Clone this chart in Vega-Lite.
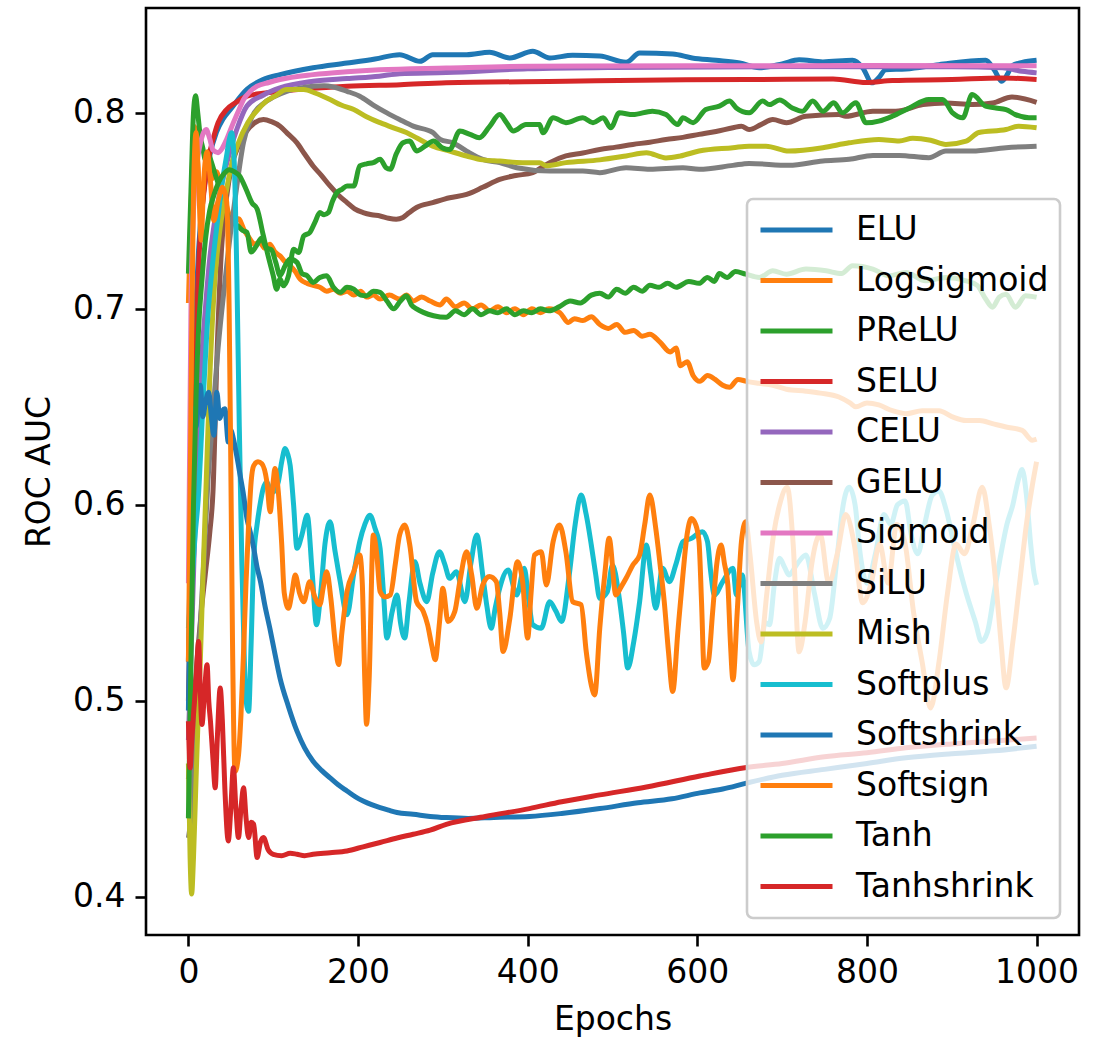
{
"$schema": "https://vega.github.io/schema/vega-lite/v6.json",
"width": 933, "height": 927,
"autosize": {"type": "none"},
"padding": {"left": 146, "top": 8, "right": 20, "bottom": 103},
"background": "white",
"data": {"values": [
{"fn":"ELU","epoch":0,"auc":0.52},{"fn":"ELU","epoch":4,"auc":0.62},{"fn":"ELU","epoch":8,"auc":0.69},{"fn":"ELU","epoch":12,"auc":0.73},{"fn":"ELU","epoch":18,"auc":0.76},{"fn":"ELU","epoch":25,"auc":0.778},{"fn":"ELU","epoch":33,"auc":0.79},{"fn":"ELU","epoch":41,"auc":0.797},{"fn":"ELU","epoch":50,"auc":0.802},{"fn":"ELU","epoch":69,"auc":0.812},{"fn":"ELU","epoch":88,"auc":0.817},{"fn":"ELU","epoch":108,"auc":0.8195},{"fn":"ELU","epoch":147,"auc":0.823},{"fn":"ELU","epoch":187,"auc":0.8254},{"fn":"ELU","epoch":220,"auc":0.8275},{"fn":"ELU","epoch":249,"auc":0.8297},{"fn":"ELU","epoch":273,"auc":0.8263},{"fn":"ELU","epoch":288,"auc":0.8297},{"fn":"ELU","epoch":328,"auc":0.8297},{"fn":"ELU","epoch":355,"auc":0.8309},{"fn":"ELU","epoch":379,"auc":0.828},{"fn":"ELU","epoch":406,"auc":0.8314},{"fn":"ELU","epoch":426,"auc":0.828},{"fn":"ELU","epoch":453,"auc":0.8294},{"fn":"ELU","epoch":485,"auc":0.829},{"fn":"ELU","epoch":516,"auc":0.8258},{"fn":"ELU","epoch":532,"auc":0.8305},{"fn":"ELU","epoch":571,"auc":0.830},{"fn":"ELU","epoch":594,"auc":0.828},{"fn":"ELU","epoch":622,"auc":0.8268},{"fn":"ELU","epoch":650,"auc":0.8254},{"fn":"ELU","epoch":673,"auc":0.823},{"fn":"ELU","epoch":700,"auc":0.825},{"fn":"ELU","epoch":720,"auc":0.8271},{"fn":"ELU","epoch":748,"auc":0.826},{"fn":"ELU","epoch":783,"auc":0.8268},{"fn":"ELU","epoch":795,"auc":0.823},{"fn":"ELU","epoch":806,"auc":0.8153},{"fn":"ELU","epoch":814,"auc":0.818},{"fn":"ELU","epoch":822,"auc":0.822},{"fn":"ELU","epoch":846,"auc":0.8224},{"fn":"ELU","epoch":885,"auc":0.8246},{"fn":"ELU","epoch":940,"auc":0.8268},{"fn":"ELU","epoch":950,"auc":0.822},{"fn":"ELU","epoch":959,"auc":0.8161},{"fn":"ELU","epoch":966,"auc":0.820},{"fn":"ELU","epoch":971,"auc":0.824},{"fn":"ELU","epoch":983,"auc":0.8257},{"fn":"ELU","epoch":1000,"auc":0.8268},

{"fn":"LogSigmoid","epoch":0,"auc":0.703},{"fn":"LogSigmoid","epoch":4,"auc":0.765},{"fn":"LogSigmoid","epoch":7,"auc":0.793},{"fn":"LogSigmoid","epoch":10,"auc":0.78},{"fn":"LogSigmoid","epoch":13,"auc":0.762},{"fn":"LogSigmoid","epoch":16,"auc":0.752},{"fn":"LogSigmoid","epoch":19,"auc":0.765},{"fn":"LogSigmoid","epoch":22,"auc":0.772},{"fn":"LogSigmoid","epoch":27,"auc":0.766},{"fn":"LogSigmoid","epoch":33,"auc":0.77},{"fn":"LogSigmoid","epoch":38,"auc":0.763},{"fn":"LogSigmoid","epoch":43,"auc":0.756},{"fn":"LogSigmoid","epoch":48,"auc":0.748},{"fn":"LogSigmoid","epoch":54,"auc":0.744},{"fn":"LogSigmoid","epoch":59,"auc":0.746},{"fn":"LogSigmoid","epoch":66,"auc":0.740},{"fn":"LogSigmoid","epoch":72,"auc":0.736},{"fn":"LogSigmoid","epoch":78,"auc":0.733},{"fn":"LogSigmoid","epoch":84,"auc":0.734},{"fn":"LogSigmoid","epoch":90,"auc":0.731},{"fn":"LogSigmoid","epoch":96,"auc":0.733},{"fn":"LogSigmoid","epoch":102,"auc":0.729},{"fn":"LogSigmoid","epoch":108,"auc":0.727},{"fn":"LogSigmoid","epoch":114,"auc":0.724},{"fn":"LogSigmoid","epoch":120,"auc":0.722},{"fn":"LogSigmoid","epoch":126,"auc":0.719},{"fn":"LogSigmoid","epoch":132,"auc":0.715},{"fn":"LogSigmoid","epoch":140,"auc":0.713},{"fn":"LogSigmoid","epoch":147,"auc":0.712},{"fn":"LogSigmoid","epoch":155,"auc":0.711},{"fn":"LogSigmoid","epoch":163,"auc":0.709},{"fn":"LogSigmoid","epoch":171,"auc":0.710},{"fn":"LogSigmoid","epoch":179,"auc":0.708},{"fn":"LogSigmoid","epoch":187,"auc":0.709},{"fn":"LogSigmoid","epoch":195,"auc":0.707},{"fn":"LogSigmoid","epoch":203,"auc":0.709},{"fn":"LogSigmoid","epoch":210,"auc":0.706},{"fn":"LogSigmoid","epoch":218,"auc":0.707},{"fn":"LogSigmoid","epoch":226,"auc":0.705},{"fn":"LogSigmoid","epoch":237,"auc":0.707},{"fn":"LogSigmoid","epoch":249,"auc":0.705},{"fn":"LogSigmoid","epoch":257,"auc":0.707},{"fn":"LogSigmoid","epoch":265,"auc":0.704},{"fn":"LogSigmoid","epoch":275,"auc":0.706},{"fn":"LogSigmoid","epoch":285,"auc":0.704},{"fn":"LogSigmoid","epoch":297,"auc":0.702},{"fn":"LogSigmoid","epoch":304,"auc":0.705},{"fn":"LogSigmoid","epoch":315,"auc":0.701},{"fn":"LogSigmoid","epoch":325,"auc":0.703},{"fn":"LogSigmoid","epoch":335,"auc":0.700},{"fn":"LogSigmoid","epoch":345,"auc":0.702},{"fn":"LogSigmoid","epoch":355,"auc":0.699},{"fn":"LogSigmoid","epoch":365,"auc":0.701},{"fn":"LogSigmoid","epoch":375,"auc":0.698},{"fn":"LogSigmoid","epoch":385,"auc":0.700},{"fn":"LogSigmoid","epoch":395,"auc":0.697},{"fn":"LogSigmoid","epoch":405,"auc":0.700},{"fn":"LogSigmoid","epoch":415,"auc":0.698},{"fn":"LogSigmoid","epoch":425,"auc":0.700},{"fn":"LogSigmoid","epoch":438,"auc":0.698},{"fn":"LogSigmoid","epoch":448,"auc":0.693},{"fn":"LogSigmoid","epoch":455,"auc":0.695},{"fn":"LogSigmoid","epoch":465,"auc":0.694},{"fn":"LogSigmoid","epoch":475,"auc":0.696},{"fn":"LogSigmoid","epoch":485,"auc":0.692},{"fn":"LogSigmoid","epoch":495,"auc":0.690},{"fn":"LogSigmoid","epoch":505,"auc":0.692},{"fn":"LogSigmoid","epoch":515,"auc":0.688},{"fn":"LogSigmoid","epoch":525,"auc":0.689},{"fn":"LogSigmoid","epoch":535,"auc":0.686},{"fn":"LogSigmoid","epoch":544,"auc":0.687},{"fn":"LogSigmoid","epoch":556,"auc":0.683},{"fn":"LogSigmoid","epoch":568,"auc":0.678},{"fn":"LogSigmoid","epoch":575,"auc":0.680},{"fn":"LogSigmoid","epoch":580,"auc":0.671},{"fn":"LogSigmoid","epoch":588,"auc":0.673},{"fn":"LogSigmoid","epoch":595,"auc":0.666},{"fn":"LogSigmoid","epoch":603,"auc":0.663},{"fn":"LogSigmoid","epoch":612,"auc":0.666},{"fn":"LogSigmoid","epoch":621,"auc":0.664},{"fn":"LogSigmoid","epoch":630,"auc":0.661},{"fn":"LogSigmoid","epoch":638,"auc":0.660},{"fn":"LogSigmoid","epoch":648,"auc":0.664},{"fn":"LogSigmoid","epoch":658,"auc":0.663},{"fn":"LogSigmoid","epoch":672,"auc":0.662},{"fn":"LogSigmoid","epoch":689,"auc":0.661},{"fn":"LogSigmoid","epoch":705,"auc":0.659},{"fn":"LogSigmoid","epoch":728,"auc":0.658},{"fn":"LogSigmoid","epoch":745,"auc":0.657},{"fn":"LogSigmoid","epoch":767,"auc":0.655},{"fn":"LogSigmoid","epoch":780,"auc":0.652},{"fn":"LogSigmoid","epoch":787,"auc":0.650},{"fn":"LogSigmoid","epoch":800,"auc":0.652},{"fn":"LogSigmoid","epoch":814,"auc":0.651},{"fn":"LogSigmoid","epoch":830,"auc":0.648},{"fn":"LogSigmoid","epoch":846,"auc":0.6465},{"fn":"LogSigmoid","epoch":865,"auc":0.648},{"fn":"LogSigmoid","epoch":885,"auc":0.648},{"fn":"LogSigmoid","epoch":900,"auc":0.645},{"fn":"LogSigmoid","epoch":917,"auc":0.643},{"fn":"LogSigmoid","epoch":933,"auc":0.643},{"fn":"LogSigmoid","epoch":948,"auc":0.6414},{"fn":"LogSigmoid","epoch":964,"auc":0.6397},{"fn":"LogSigmoid","epoch":983,"auc":0.638},{"fn":"LogSigmoid","epoch":995,"auc":0.633},{"fn":"LogSigmoid","epoch":1000,"auc":0.6335},

{"fn":"PReLU","epoch":0,"auc":0.718},{"fn":"PReLU","epoch":3,"auc":0.76},{"fn":"PReLU","epoch":6,"auc":0.80},{"fn":"PReLU","epoch":8.5,"auc":0.8087},{"fn":"PReLU","epoch":11,"auc":0.80},{"fn":"PReLU","epoch":14,"auc":0.788},{"fn":"PReLU","epoch":17,"auc":0.782},{"fn":"PReLU","epoch":20,"auc":0.776},{"fn":"PReLU","epoch":23,"auc":0.78},{"fn":"PReLU","epoch":27,"auc":0.775},{"fn":"PReLU","epoch":32,"auc":0.768},{"fn":"PReLU","epoch":39,"auc":0.759},{"fn":"PReLU","epoch":47,"auc":0.747},{"fn":"PReLU","epoch":53,"auc":0.744},{"fn":"PReLU","epoch":59,"auc":0.742},{"fn":"PReLU","epoch":64,"auc":0.740},{"fn":"PReLU","epoch":69,"auc":0.739},{"fn":"PReLU","epoch":74,"auc":0.729},{"fn":"PReLU","epoch":80,"auc":0.732},{"fn":"PReLU","epoch":86,"auc":0.736},{"fn":"PReLU","epoch":92,"auc":0.731},{"fn":"PReLU","epoch":98,"auc":0.730},{"fn":"PReLU","epoch":103,"auc":0.7237},{"fn":"PReLU","epoch":108,"auc":0.7169},{"fn":"PReLU","epoch":114,"auc":0.722},{"fn":"PReLU","epoch":120,"auc":0.7254},{"fn":"PReLU","epoch":128,"auc":0.7237},{"fn":"PReLU","epoch":134,"auc":0.718},{"fn":"PReLU","epoch":140,"auc":0.7169},{"fn":"PReLU","epoch":147,"auc":0.7135},{"fn":"PReLU","epoch":155,"auc":0.716},{"fn":"PReLU","epoch":163,"auc":0.7169},{"fn":"PReLU","epoch":171,"auc":0.711},{"fn":"PReLU","epoch":179,"auc":0.7084},{"fn":"PReLU","epoch":187,"auc":0.711},{"fn":"PReLU","epoch":195,"auc":0.710},{"fn":"PReLU","epoch":203,"auc":0.707},{"fn":"PReLU","epoch":210,"auc":0.7067},{"fn":"PReLU","epoch":218,"auc":0.709},{"fn":"PReLU","epoch":226,"auc":0.7084},{"fn":"PReLU","epoch":234,"auc":0.704},{"fn":"PReLU","epoch":242,"auc":0.700},{"fn":"PReLU","epoch":250,"auc":0.704},{"fn":"PReLU","epoch":257,"auc":0.7067},{"fn":"PReLU","epoch":263,"auc":0.702},{"fn":"PReLU","epoch":269,"auc":0.700},{"fn":"PReLU","epoch":277,"auc":0.6982},{"fn":"PReLU","epoch":289,"auc":0.6965},{"fn":"PReLU","epoch":304,"auc":0.6957},{"fn":"PReLU","epoch":315,"auc":0.699},{"fn":"PReLU","epoch":325,"auc":0.697},{"fn":"PReLU","epoch":335,"auc":0.700},{"fn":"PReLU","epoch":345,"auc":0.697},{"fn":"PReLU","epoch":355,"auc":0.699},{"fn":"PReLU","epoch":365,"auc":0.698},{"fn":"PReLU","epoch":375,"auc":0.700},{"fn":"PReLU","epoch":385,"auc":0.697},{"fn":"PReLU","epoch":395,"auc":0.699},{"fn":"PReLU","epoch":405,"auc":0.698},{"fn":"PReLU","epoch":415,"auc":0.700},{"fn":"PReLU","epoch":425,"auc":0.699},{"fn":"PReLU","epoch":437,"auc":0.701},{"fn":"PReLU","epoch":450,"auc":0.704},{"fn":"PReLU","epoch":462,"auc":0.703},{"fn":"PReLU","epoch":475,"auc":0.707},{"fn":"PReLU","epoch":485,"auc":0.708},{"fn":"PReLU","epoch":495,"auc":0.706},{"fn":"PReLU","epoch":505,"auc":0.710},{"fn":"PReLU","epoch":515,"auc":0.708},{"fn":"PReLU","epoch":525,"auc":0.711},{"fn":"PReLU","epoch":535,"auc":0.709},{"fn":"PReLU","epoch":544,"auc":0.712},{"fn":"PReLU","epoch":555,"auc":0.711},{"fn":"PReLU","epoch":565,"auc":0.713},{"fn":"PReLU","epoch":575,"auc":0.711},{"fn":"PReLU","epoch":590,"auc":0.714},{"fn":"PReLU","epoch":602,"auc":0.713},{"fn":"PReLU","epoch":612,"auc":0.716},{"fn":"PReLU","epoch":620,"auc":0.714},{"fn":"PReLU","epoch":626,"auc":0.718},{"fn":"PReLU","epoch":635,"auc":0.716},{"fn":"PReLU","epoch":645,"auc":0.719},{"fn":"PReLU","epoch":657,"auc":0.7177},{"fn":"PReLU","epoch":673,"auc":0.716},{"fn":"PReLU","epoch":689,"auc":0.7194},{"fn":"PReLU","epoch":705,"auc":0.7177},{"fn":"PReLU","epoch":728,"auc":0.7203},{"fn":"PReLU","epoch":752,"auc":0.7194},{"fn":"PReLU","epoch":770,"auc":0.718},{"fn":"PReLU","epoch":783,"auc":0.722},{"fn":"PReLU","epoch":807,"auc":0.7203},{"fn":"PReLU","epoch":826,"auc":0.7169},{"fn":"PReLU","epoch":846,"auc":0.7186},{"fn":"PReLU","epoch":869,"auc":0.7143},{"fn":"PReLU","epoch":893,"auc":0.716},{"fn":"PReLU","epoch":917,"auc":0.7143},{"fn":"PReLU","epoch":930,"auc":0.712},{"fn":"PReLU","epoch":940,"auc":0.705},{"fn":"PReLU","epoch":948,"auc":0.7008},{"fn":"PReLU","epoch":956,"auc":0.706},{"fn":"PReLU","epoch":964,"auc":0.7075},{"fn":"PReLU","epoch":975,"auc":0.7008},{"fn":"PReLU","epoch":987,"auc":0.7067},{"fn":"PReLU","epoch":1000,"auc":0.7059},

{"fn":"SELU","epoch":0,"auc":0.50},{"fn":"SELU","epoch":3,"auc":0.56},{"fn":"SELU","epoch":5.6,"auc":0.60},{"fn":"SELU","epoch":8,"auc":0.66},{"fn":"SELU","epoch":11,"auc":0.71},{"fn":"SELU","epoch":15,"auc":0.745},{"fn":"SELU","epoch":19,"auc":0.762},{"fn":"SELU","epoch":23,"auc":0.775},{"fn":"SELU","epoch":30,"auc":0.788},{"fn":"SELU","epoch":35,"auc":0.795},{"fn":"SELU","epoch":45,"auc":0.8017},{"fn":"SELU","epoch":55,"auc":0.805},{"fn":"SELU","epoch":69,"auc":0.8085},{"fn":"SELU","epoch":88,"auc":0.810},{"fn":"SELU","epoch":108,"auc":0.811},{"fn":"SELU","epoch":147,"auc":0.8125},{"fn":"SELU","epoch":187,"auc":0.8136},{"fn":"SELU","epoch":250,"auc":0.8144},{"fn":"SELU","epoch":304,"auc":0.8153},{"fn":"SELU","epoch":445,"auc":0.8161},{"fn":"SELU","epoch":560,"auc":0.8168},{"fn":"SELU","epoch":657,"auc":0.817},{"fn":"SELU","epoch":760,"auc":0.8173},{"fn":"SELU","epoch":799,"auc":0.8155},{"fn":"SELU","epoch":830,"auc":0.8165},{"fn":"SELU","epoch":900,"auc":0.817},{"fn":"SELU","epoch":959,"auc":0.8178},{"fn":"SELU","epoch":1000,"auc":0.817},

{"fn":"CELU","epoch":0,"auc":0.48},{"fn":"CELU","epoch":5,"auc":0.55},{"fn":"CELU","epoch":10,"auc":0.62},{"fn":"CELU","epoch":15,"auc":0.67},{"fn":"CELU","epoch":20,"auc":0.70},{"fn":"CELU","epoch":25,"auc":0.725},{"fn":"CELU","epoch":30,"auc":0.742},{"fn":"CELU","epoch":40,"auc":0.765},{"fn":"CELU","epoch":50,"auc":0.782},{"fn":"CELU","epoch":57,"auc":0.7915},{"fn":"CELU","epoch":69,"auc":0.8035},{"fn":"CELU","epoch":88,"auc":0.809},{"fn":"CELU","epoch":108,"auc":0.8127},{"fn":"CELU","epoch":147,"auc":0.8161},{"fn":"CELU","epoch":187,"auc":0.8175},{"fn":"CELU","epoch":225,"auc":0.8187},{"fn":"CELU","epoch":249,"auc":0.8200},{"fn":"CELU","epoch":304,"auc":0.8206},{"fn":"CELU","epoch":400,"auc":0.8225},{"fn":"CELU","epoch":500,"auc":0.8232},{"fn":"CELU","epoch":700,"auc":0.8236},{"fn":"CELU","epoch":900,"auc":0.8235},{"fn":"CELU","epoch":960,"auc":0.823},{"fn":"CELU","epoch":983,"auc":0.8212},{"fn":"CELU","epoch":1000,"auc":0.8204},

{"fn":"GELU","epoch":0,"auc":0.46},{"fn":"GELU","epoch":5,"auc":0.49},{"fn":"GELU","epoch":10,"auc":0.52},{"fn":"GELU","epoch":15,"auc":0.545},{"fn":"GELU","epoch":20,"auc":0.565},{"fn":"GELU","epoch":25,"auc":0.585},{"fn":"GELU","epoch":29,"auc":0.607},{"fn":"GELU","epoch":34,"auc":0.68},{"fn":"GELU","epoch":39,"auc":0.7304},{"fn":"GELU","epoch":45,"auc":0.757},{"fn":"GELU","epoch":51,"auc":0.7729},{"fn":"GELU","epoch":59,"auc":0.783},{"fn":"GELU","epoch":67,"auc":0.7898},{"fn":"GELU","epoch":78,"auc":0.7949},{"fn":"GELU","epoch":88.5,"auc":0.7966},{"fn":"GELU","epoch":98,"auc":0.7955},{"fn":"GELU","epoch":108,"auc":0.7932},{"fn":"GELU","epoch":118,"auc":0.789},{"fn":"GELU","epoch":128,"auc":0.7847},{"fn":"GELU","epoch":137,"auc":0.779},{"fn":"GELU","epoch":147,"auc":0.7729},{"fn":"GELU","epoch":157,"auc":0.768},{"fn":"GELU","epoch":167,"auc":0.7627},{"fn":"GELU","epoch":177,"auc":0.758},{"fn":"GELU","epoch":187,"auc":0.7542},{"fn":"GELU","epoch":196,"auc":0.751},{"fn":"GELU","epoch":206,"auc":0.7491},{"fn":"GELU","epoch":216,"auc":0.748},{"fn":"GELU","epoch":226,"auc":0.7474},{"fn":"GELU","epoch":236,"auc":0.7462},{"fn":"GELU","epoch":245,"auc":0.7457},{"fn":"GELU","epoch":253,"auc":0.7466},{"fn":"GELU","epoch":260,"auc":0.749},{"fn":"GELU","epoch":269,"auc":0.7517},{"fn":"GELU","epoch":288,"auc":0.7542},{"fn":"GELU","epoch":308,"auc":0.7567},{"fn":"GELU","epoch":328,"auc":0.7584},{"fn":"GELU","epoch":347,"auc":0.762},{"fn":"GELU","epoch":367,"auc":0.7661},{"fn":"GELU","epoch":386,"auc":0.768},{"fn":"GELU","epoch":406,"auc":0.7695},{"fn":"GELU","epoch":416,"auc":0.772},{"fn":"GELU","epoch":426,"auc":0.7746},{"fn":"GELU","epoch":445,"auc":0.778},{"fn":"GELU","epoch":465,"auc":0.7795},{"fn":"GELU","epoch":485,"auc":0.7813},{"fn":"GELU","epoch":504,"auc":0.7825},{"fn":"GELU","epoch":524,"auc":0.7839},{"fn":"GELU","epoch":544,"auc":0.785},{"fn":"GELU","epoch":563,"auc":0.7864},{"fn":"GELU","epoch":583,"auc":0.7875},{"fn":"GELU","epoch":602,"auc":0.789},{"fn":"GELU","epoch":622,"auc":0.7905},{"fn":"GELU","epoch":642,"auc":0.7924},{"fn":"GELU","epoch":652,"auc":0.7932},{"fn":"GELU","epoch":661,"auc":0.7915},{"fn":"GELU","epoch":675,"auc":0.794},{"fn":"GELU","epoch":689,"auc":0.7966},{"fn":"GELU","epoch":705,"auc":0.795},{"fn":"GELU","epoch":728,"auc":0.7983},{"fn":"GELU","epoch":767,"auc":0.7991},{"fn":"GELU","epoch":775,"auc":0.7983},{"fn":"GELU","epoch":807,"auc":0.8008},{"fn":"GELU","epoch":834,"auc":0.8008},{"fn":"GELU","epoch":866,"auc":0.8042},{"fn":"GELU","epoch":893,"auc":0.805},{"fn":"GELU","epoch":924,"auc":0.8042},{"fn":"GELU","epoch":948,"auc":0.805},{"fn":"GELU","epoch":971,"auc":0.8081},{"fn":"GELU","epoch":1000,"auc":0.8054},

{"fn":"Sigmoid","epoch":0,"auc":0.56},{"fn":"Sigmoid","epoch":3,"auc":0.70},{"fn":"Sigmoid","epoch":6,"auc":0.75},{"fn":"Sigmoid","epoch":9,"auc":0.77},{"fn":"Sigmoid","epoch":13,"auc":0.782},{"fn":"Sigmoid","epoch":17,"auc":0.789},{"fn":"Sigmoid","epoch":21,"auc":0.7915},{"fn":"Sigmoid","epoch":25,"auc":0.787},{"fn":"Sigmoid","epoch":29,"auc":0.781},{"fn":"Sigmoid","epoch":35,"auc":0.7797},{"fn":"Sigmoid","epoch":40,"auc":0.782},{"fn":"Sigmoid","epoch":45,"auc":0.7864},{"fn":"Sigmoid","epoch":53,"auc":0.795},{"fn":"Sigmoid","epoch":60,"auc":0.802},{"fn":"Sigmoid","epoch":65,"auc":0.8068},{"fn":"Sigmoid","epoch":73,"auc":0.811},{"fn":"Sigmoid","epoch":81,"auc":0.8136},{"fn":"Sigmoid","epoch":95,"auc":0.8155},{"fn":"Sigmoid","epoch":108,"auc":0.817},{"fn":"Sigmoid","epoch":147,"auc":0.8195},{"fn":"Sigmoid","epoch":187,"auc":0.821},{"fn":"Sigmoid","epoch":225,"auc":0.822},{"fn":"Sigmoid","epoch":304,"auc":0.8229},{"fn":"Sigmoid","epoch":400,"auc":0.8238},{"fn":"Sigmoid","epoch":600,"auc":0.824},{"fn":"Sigmoid","epoch":800,"auc":0.8241},{"fn":"Sigmoid","epoch":1000,"auc":0.8240},

{"fn":"SiLU","epoch":0,"auc":0.43},{"fn":"SiLU","epoch":3,"auc":0.44},{"fn":"SiLU","epoch":8,"auc":0.48},{"fn":"SiLU","epoch":13,"auc":0.53},{"fn":"SiLU","epoch":18,"auc":0.57},{"fn":"SiLU","epoch":23,"auc":0.612},{"fn":"SiLU","epoch":27,"auc":0.635},{"fn":"SiLU","epoch":35,"auc":0.68},{"fn":"SiLU","epoch":43,"auc":0.7135},{"fn":"SiLU","epoch":50,"auc":0.74},{"fn":"SiLU","epoch":55,"auc":0.756},{"fn":"SiLU","epoch":65,"auc":0.785},{"fn":"SiLU","epoch":75,"auc":0.798},{"fn":"SiLU","epoch":89,"auc":0.805},{"fn":"SiLU","epoch":100,"auc":0.808},{"fn":"SiLU","epoch":116,"auc":0.811},{"fn":"SiLU","epoch":130,"auc":0.8125},{"fn":"SiLU","epoch":147,"auc":0.8136},{"fn":"SiLU","epoch":160,"auc":0.8138},{"fn":"SiLU","epoch":171,"auc":0.8132},{"fn":"SiLU","epoch":187,"auc":0.811},{"fn":"SiLU","epoch":202,"auc":0.8085},{"fn":"SiLU","epoch":218,"auc":0.804},{"fn":"SiLU","epoch":234,"auc":0.80},{"fn":"SiLU","epoch":249,"auc":0.7966},{"fn":"SiLU","epoch":265,"auc":0.7932},{"fn":"SiLU","epoch":288,"auc":0.79},{"fn":"SiLU","epoch":297,"auc":0.7864},{"fn":"SiLU","epoch":312,"auc":0.7847},{"fn":"SiLU","epoch":328,"auc":0.7805},{"fn":"SiLU","epoch":347,"auc":0.7763},{"fn":"SiLU","epoch":367,"auc":0.7746},{"fn":"SiLU","epoch":387,"auc":0.772},{"fn":"SiLU","epoch":426,"auc":0.7703},{"fn":"SiLU","epoch":465,"auc":0.7703},{"fn":"SiLU","epoch":485,"auc":0.7695},{"fn":"SiLU","epoch":516,"auc":0.772},{"fn":"SiLU","epoch":544,"auc":0.7712},{"fn":"SiLU","epoch":583,"auc":0.772},{"fn":"SiLU","epoch":602,"auc":0.7712},{"fn":"SiLU","epoch":642,"auc":0.7732},{"fn":"SiLU","epoch":661,"auc":0.7742},{"fn":"SiLU","epoch":708,"auc":0.7732},{"fn":"SiLU","epoch":748,"auc":0.7754},{"fn":"SiLU","epoch":779,"auc":0.7763},{"fn":"SiLU","epoch":807,"auc":0.7783},{"fn":"SiLU","epoch":838,"auc":0.7783},{"fn":"SiLU","epoch":873,"auc":0.7771},{"fn":"SiLU","epoch":893,"auc":0.7805},{"fn":"SiLU","epoch":924,"auc":0.7805},{"fn":"SiLU","epoch":964,"auc":0.7822},{"fn":"SiLU","epoch":1000,"auc":0.783},

{"fn":"Mish","epoch":0,"auc":0.468},{"fn":"Mish","epoch":2,"auc":0.42},{"fn":"Mish","epoch":3.8,"auc":0.4014},{"fn":"Mish","epoch":6,"auc":0.42},{"fn":"Mish","epoch":9,"auc":0.46},{"fn":"Mish","epoch":11.6,"auc":0.493},{"fn":"Mish","epoch":14,"auc":0.52},{"fn":"Mish","epoch":17,"auc":0.561},{"fn":"Mish","epoch":21,"auc":0.612},{"fn":"Mish","epoch":25,"auc":0.6626},{"fn":"Mish","epoch":31,"auc":0.7135},{"fn":"Mish","epoch":37,"auc":0.74},{"fn":"Mish","epoch":43,"auc":0.756},{"fn":"Mish","epoch":50,"auc":0.772},{"fn":"Mish","epoch":59,"auc":0.7847},{"fn":"Mish","epoch":70,"auc":0.795},{"fn":"Mish","epoch":82,"auc":0.8017},{"fn":"Mish","epoch":92,"auc":0.806},{"fn":"Mish","epoch":102,"auc":0.8085},{"fn":"Mish","epoch":116,"auc":0.8119},{"fn":"Mish","epoch":136,"auc":0.8119},{"fn":"Mish","epoch":150,"auc":0.810},{"fn":"Mish","epoch":167,"auc":0.8068},{"fn":"Mish","epoch":180,"auc":0.804},{"fn":"Mish","epoch":195,"auc":0.8017},{"fn":"Mish","epoch":210,"auc":0.798},{"fn":"Mish","epoch":226,"auc":0.795},{"fn":"Mish","epoch":241,"auc":0.7925},{"fn":"Mish","epoch":257,"auc":0.79},{"fn":"Mish","epoch":270,"auc":0.787},{"fn":"Mish","epoch":288,"auc":0.783},{"fn":"Mish","epoch":308,"auc":0.7805},{"fn":"Mish","epoch":328,"auc":0.778},{"fn":"Mish","epoch":347,"auc":0.776},{"fn":"Mish","epoch":367,"auc":0.7754},{"fn":"Mish","epoch":394,"auc":0.7746},{"fn":"Mish","epoch":414,"auc":0.7746},{"fn":"Mish","epoch":422,"auc":0.773},{"fn":"Mish","epoch":445,"auc":0.7746},{"fn":"Mish","epoch":485,"auc":0.776},{"fn":"Mish","epoch":516,"auc":0.778},{"fn":"Mish","epoch":540,"auc":0.7797},{"fn":"Mish","epoch":563,"auc":0.777},{"fn":"Mish","epoch":580,"auc":0.778},{"fn":"Mish","epoch":602,"auc":0.7805},{"fn":"Mish","epoch":642,"auc":0.7822},{"fn":"Mish","epoch":661,"auc":0.783},{"fn":"Mish","epoch":681,"auc":0.783},{"fn":"Mish","epoch":708,"auc":0.7805},{"fn":"Mish","epoch":748,"auc":0.7822},{"fn":"Mish","epoch":779,"auc":0.7847},{"fn":"Mish","epoch":814,"auc":0.7864},{"fn":"Mish","epoch":838,"auc":0.7856},{"fn":"Mish","epoch":854,"auc":0.787},{"fn":"Mish","epoch":875,"auc":0.786},{"fn":"Mish","epoch":893,"auc":0.7839},{"fn":"Mish","epoch":917,"auc":0.7856},{"fn":"Mish","epoch":932,"auc":0.79},{"fn":"Mish","epoch":964,"auc":0.7915},{"fn":"Mish","epoch":979,"auc":0.7932},{"fn":"Mish","epoch":1000,"auc":0.7924},

{"fn":"Softplus","epoch":0,"auc":0.537},{"fn":"Softplus","epoch":4,"auc":0.56},{"fn":"Softplus","epoch":8,"auc":0.585},{"fn":"Softplus","epoch":11.6,"auc":0.603},{"fn":"Softplus","epoch":17,"auc":0.65},{"fn":"Softplus","epoch":23,"auc":0.6966},{"fn":"Softplus","epoch":29,"auc":0.725},{"fn":"Softplus","epoch":35,"auc":0.7474},{"fn":"Softplus","epoch":40,"auc":0.765},{"fn":"Softplus","epoch":45,"auc":0.778},{"fn":"Softplus","epoch":48,"auc":0.786},{"fn":"Softplus","epoch":51,"auc":0.7898},{"fn":"Softplus","epoch":54,"auc":0.775},{"fn":"Softplus","epoch":57,"auc":0.72},{"fn":"Softplus","epoch":60,"auc":0.64},{"fn":"Softplus","epoch":63,"auc":0.57},{"fn":"Softplus","epoch":66,"auc":0.52},{"fn":"Softplus","epoch":69,"auc":0.497},{"fn":"Softplus","epoch":71,"auc":0.4947},{"fn":"Softplus","epoch":74,"auc":0.53},{"fn":"Softplus","epoch":77,"auc":0.5727},{"fn":"Softplus","epoch":81,"auc":0.59},{"fn":"Softplus","epoch":85,"auc":0.6015},{"fn":"Softplus","epoch":88,"auc":0.608},{"fn":"Softplus","epoch":92.5,"auc":0.6117},{"fn":"Softplus","epoch":96,"auc":0.608},{"fn":"Softplus","epoch":100,"auc":0.6066},{"fn":"Softplus","epoch":106,"auc":0.6117},{"fn":"Softplus","epoch":110,"auc":0.622},{"fn":"Softplus","epoch":114,"auc":0.6287},{"fn":"Softplus","epoch":117,"auc":0.626},{"fn":"Softplus","epoch":120,"auc":0.620},{"fn":"Softplus","epoch":124,"auc":0.600},{"fn":"Softplus","epoch":128,"auc":0.5778},{"fn":"Softplus","epoch":134,"auc":0.585},{"fn":"Softplus","epoch":140,"auc":0.5947},{"fn":"Softplus","epoch":146,"auc":0.565},{"fn":"Softplus","epoch":151,"auc":0.5388},{"fn":"Softplus","epoch":156,"auc":0.555},{"fn":"Softplus","epoch":161,"auc":0.580},{"fn":"Softplus","epoch":167,"auc":0.5913},{"fn":"Softplus","epoch":173,"auc":0.576},{"fn":"Softplus","epoch":179,"auc":0.5608},{"fn":"Softplus","epoch":187,"auc":0.5439},{"fn":"Softplus","epoch":195,"auc":0.565},{"fn":"Softplus","epoch":202,"auc":0.5812},{"fn":"Softplus","epoch":208,"auc":0.590},{"fn":"Softplus","epoch":214,"auc":0.5947},{"fn":"Softplus","epoch":220,"auc":0.588},{"fn":"Softplus","epoch":226,"auc":0.5778},{"fn":"Softplus","epoch":230,"auc":0.555},{"fn":"Softplus","epoch":234,"auc":0.532},{"fn":"Softplus","epoch":240,"auc":0.545},{"fn":"Softplus","epoch":246,"auc":0.554},{"fn":"Softplus","epoch":250,"auc":0.540},{"fn":"Softplus","epoch":255,"auc":0.532},{"fn":"Softplus","epoch":260,"auc":0.550},{"fn":"Softplus","epoch":267,"auc":0.571},{"fn":"Softplus","epoch":273,"auc":0.560},{"fn":"Softplus","epoch":281,"auc":0.5506},{"fn":"Softplus","epoch":288,"auc":0.565},{"fn":"Softplus","epoch":296,"auc":0.5761},{"fn":"Softplus","epoch":302,"auc":0.570},{"fn":"Softplus","epoch":308,"auc":0.5625},{"fn":"Softplus","epoch":316,"auc":0.5659},{"fn":"Softplus","epoch":326,"auc":0.5506},{"fn":"Softplus","epoch":333,"auc":0.570},{"fn":"Softplus","epoch":340,"auc":0.5846},{"fn":"Softplus","epoch":347,"auc":0.5642},{"fn":"Softplus","epoch":352,"auc":0.548},{"fn":"Softplus","epoch":357,"auc":0.537},{"fn":"Softplus","epoch":362,"auc":0.548},{"fn":"Softplus","epoch":367,"auc":0.5574},{"fn":"Softplus","epoch":377,"auc":0.5667},{"fn":"Softplus","epoch":387,"auc":0.554},{"fn":"Softplus","epoch":396,"auc":0.5676},{"fn":"Softplus","epoch":401,"auc":0.552},{"fn":"Softplus","epoch":406,"auc":0.5388},{"fn":"Softplus","epoch":416,"auc":0.537},{"fn":"Softplus","epoch":426,"auc":0.5506},{"fn":"Softplus","epoch":433,"auc":0.546},{"fn":"Softplus","epoch":440,"auc":0.5405},{"fn":"Softplus","epoch":449,"auc":0.5642},{"fn":"Softplus","epoch":456,"auc":0.590},{"fn":"Softplus","epoch":463,"auc":0.605},{"fn":"Softplus","epoch":469,"auc":0.595},{"fn":"Softplus","epoch":475,"auc":0.5795},{"fn":"Softplus","epoch":480,"auc":0.565},{"fn":"Softplus","epoch":485,"auc":0.5523},{"fn":"Softplus","epoch":494,"auc":0.5557},{"fn":"Softplus","epoch":500,"auc":0.5693},{"fn":"Softplus","epoch":508,"auc":0.5523},{"fn":"Softplus","epoch":513,"auc":0.535},{"fn":"Softplus","epoch":518,"auc":0.5167},{"fn":"Softplus","epoch":525,"auc":0.530},{"fn":"Softplus","epoch":532,"auc":0.5506},{"fn":"Softplus","epoch":540,"auc":0.5795},{"fn":"Softplus","epoch":545,"auc":0.565},{"fn":"Softplus","epoch":551,"auc":0.5472},{"fn":"Softplus","epoch":559,"auc":0.5676},{"fn":"Softplus","epoch":567,"auc":0.5608},{"fn":"Softplus","epoch":575,"auc":0.570},{"fn":"Softplus","epoch":583,"auc":0.5812},{"fn":"Softplus","epoch":593,"auc":0.5829},{"fn":"Softplus","epoch":600,"auc":0.585},{"fn":"Softplus","epoch":606,"auc":0.5863},{"fn":"Softplus","epoch":612,"auc":0.5812},{"fn":"Softplus","epoch":616,"auc":0.565},{"fn":"Softplus","epoch":620,"auc":0.554},{"fn":"Softplus","epoch":630,"auc":0.5608},{"fn":"Softplus","epoch":642,"auc":0.5676},{"fn":"Softplus","epoch":646,"auc":0.554},{"fn":"Softplus","epoch":653,"auc":0.5642},{"fn":"Softplus","epoch":661,"auc":0.5252},{"fn":"Softplus","epoch":667,"auc":0.5184},{"fn":"Softplus","epoch":673,"auc":0.5201},{"fn":"Softplus","epoch":680,"auc":0.540},{"fn":"Softplus","epoch":685,"auc":0.5388},{"fn":"Softplus","epoch":691,"auc":0.560},{"fn":"Softplus","epoch":697,"auc":0.5727},{"fn":"Softplus","epoch":703,"auc":0.568},{"fn":"Softplus","epoch":708,"auc":0.5642},{"fn":"Softplus","epoch":718,"auc":0.570},{"fn":"Softplus","epoch":728,"auc":0.5744},{"fn":"Softplus","epoch":738,"auc":0.555},{"fn":"Softplus","epoch":748,"auc":0.537},{"fn":"Softplus","epoch":756,"auc":0.542},{"fn":"Softplus","epoch":764,"auc":0.570},{"fn":"Softplus","epoch":772,"auc":0.600},{"fn":"Softplus","epoch":779,"auc":0.609},{"fn":"Softplus","epoch":786,"auc":0.600},{"fn":"Softplus","epoch":792,"auc":0.575},{"fn":"Softplus","epoch":800,"auc":0.560},{"fn":"Softplus","epoch":810,"auc":0.575},{"fn":"Softplus","epoch":820,"auc":0.595},{"fn":"Softplus","epoch":828,"auc":0.590},{"fn":"Softplus","epoch":836,"auc":0.600},{"fn":"Softplus","epoch":845,"auc":0.602},{"fn":"Softplus","epoch":852,"auc":0.585},{"fn":"Softplus","epoch":860,"auc":0.575},{"fn":"Softplus","epoch":868,"auc":0.590},{"fn":"Softplus","epoch":877,"auc":0.605},{"fn":"Softplus","epoch":885,"auc":0.607},{"fn":"Softplus","epoch":893,"auc":0.598},{"fn":"Softplus","epoch":905,"auc":0.575},{"fn":"Softplus","epoch":917,"auc":0.555},{"fn":"Softplus","epoch":928,"auc":0.540},{"fn":"Softplus","epoch":935,"auc":0.5303},{"fn":"Softplus","epoch":942,"auc":0.535},{"fn":"Softplus","epoch":950,"auc":0.555},{"fn":"Softplus","epoch":958,"auc":0.575},{"fn":"Softplus","epoch":965,"auc":0.590},{"fn":"Softplus","epoch":972,"auc":0.600},{"fn":"Softplus","epoch":978,"auc":0.612},{"fn":"Softplus","epoch":983,"auc":0.618},{"fn":"Softplus","epoch":988,"auc":0.605},{"fn":"Softplus","epoch":993,"auc":0.58},{"fn":"Softplus","epoch":997,"auc":0.565},{"fn":"Softplus","epoch":1000,"auc":0.5591},

{"fn":"Softshrink","epoch":0,"auc":0.495},{"fn":"Softshrink","epoch":2,"auc":0.56},{"fn":"Softshrink","epoch":4,"auc":0.62},{"fn":"Softshrink","epoch":6,"auc":0.649},{"fn":"Softshrink","epoch":9,"auc":0.64},{"fn":"Softshrink","epoch":12,"auc":0.655},{"fn":"Softshrink","epoch":14,"auc":0.661},{"fn":"Softshrink","epoch":17,"auc":0.645},{"fn":"Softshrink","epoch":20,"auc":0.652},{"fn":"Softshrink","epoch":24,"auc":0.6575},{"fn":"Softshrink","epoch":27,"auc":0.645},{"fn":"Softshrink","epoch":30,"auc":0.6355},{"fn":"Softshrink","epoch":33.5,"auc":0.6575},{"fn":"Softshrink","epoch":37,"auc":0.644},{"fn":"Softshrink","epoch":40,"auc":0.648},{"fn":"Softshrink","epoch":43,"auc":0.649},{"fn":"Softshrink","epoch":47,"auc":0.632},{"fn":"Softshrink","epoch":50,"auc":0.638},{"fn":"Softshrink","epoch":53,"auc":0.6338},{"fn":"Softshrink","epoch":57,"auc":0.625},{"fn":"Softshrink","epoch":61,"auc":0.615},{"fn":"Softshrink","epoch":65,"auc":0.605},{"fn":"Softshrink","epoch":69,"auc":0.593},{"fn":"Softshrink","epoch":73,"auc":0.586},{"fn":"Softshrink","epoch":77,"auc":0.5778},{"fn":"Softshrink","epoch":81,"auc":0.568},{"fn":"Softshrink","epoch":85,"auc":0.5608},{"fn":"Softshrink","epoch":90,"auc":0.549},{"fn":"Softshrink","epoch":96,"auc":0.537},{"fn":"Softshrink","epoch":102,"auc":0.524},{"fn":"Softshrink","epoch":108,"auc":0.5116},{"fn":"Softshrink","epoch":118,"auc":0.497},{"fn":"Softshrink","epoch":128,"auc":0.4845},{"fn":"Softshrink","epoch":137,"auc":0.476},{"fn":"Softshrink","epoch":147,"auc":0.4692},{"fn":"Softshrink","epoch":157,"auc":0.4645},{"fn":"Softshrink","epoch":167,"auc":0.4607},{"fn":"Softshrink","epoch":177,"auc":0.457},{"fn":"Softshrink","epoch":187,"auc":0.454},{"fn":"Softshrink","epoch":197,"auc":0.451},{"fn":"Softshrink","epoch":206,"auc":0.4489},{"fn":"Softshrink","epoch":216,"auc":0.447},{"fn":"Softshrink","epoch":226,"auc":0.4455},{"fn":"Softshrink","epoch":236,"auc":0.4442},{"fn":"Softshrink","epoch":246,"auc":0.443},{"fn":"Softshrink","epoch":265,"auc":0.4421},{"fn":"Softshrink","epoch":285,"auc":0.441},{"fn":"Softshrink","epoch":304,"auc":0.4404},{"fn":"Softshrink","epoch":330,"auc":0.440},{"fn":"Softshrink","epoch":360,"auc":0.4405},{"fn":"Softshrink","epoch":402,"auc":0.441},{"fn":"Softshrink","epoch":440,"auc":0.4425},{"fn":"Softshrink","epoch":485,"auc":0.445},{"fn":"Softshrink","epoch":530,"auc":0.448},{"fn":"Softshrink","epoch":570,"auc":0.450},{"fn":"Softshrink","epoch":603,"auc":0.453},{"fn":"Softshrink","epoch":630,"auc":0.455},{"fn":"Softshrink","epoch":658,"auc":0.458},{"fn":"Softshrink","epoch":700,"auc":0.462},{"fn":"Softshrink","epoch":750,"auc":0.465},{"fn":"Softshrink","epoch":800,"auc":0.468},{"fn":"Softshrink","epoch":846,"auc":0.4709},{"fn":"Softshrink","epoch":900,"auc":0.473},{"fn":"Softshrink","epoch":950,"auc":0.4745},{"fn":"Softshrink","epoch":1000,"auc":0.4768},

{"fn":"Softsign","epoch":0,"auc":0.52},{"fn":"Softsign","epoch":3,"auc":0.65},{"fn":"Softsign","epoch":6,"auc":0.76},{"fn":"Softsign","epoch":9,"auc":0.79},{"fn":"Softsign","epoch":12,"auc":0.765},{"fn":"Softsign","epoch":15,"auc":0.735},{"fn":"Softsign","epoch":18,"auc":0.765},{"fn":"Softsign","epoch":22,"auc":0.78},{"fn":"Softsign","epoch":26,"auc":0.765},{"fn":"Softsign","epoch":30,"auc":0.745},{"fn":"Softsign","epoch":35,"auc":0.755},{"fn":"Softsign","epoch":40,"auc":0.762},{"fn":"Softsign","epoch":45,"auc":0.755},{"fn":"Softsign","epoch":48,"auc":0.70},{"fn":"Softsign","epoch":50,"auc":0.62},{"fn":"Softsign","epoch":52,"auc":0.53},{"fn":"Softsign","epoch":55,"auc":0.464},{"fn":"Softsign","epoch":59,"auc":0.472},{"fn":"Softsign","epoch":62,"auc":0.493},{"fn":"Softsign","epoch":65,"auc":0.525},{"fn":"Softsign","epoch":68,"auc":0.561},{"fn":"Softsign","epoch":71,"auc":0.59},{"fn":"Softsign","epoch":74,"auc":0.612},{"fn":"Softsign","epoch":77,"auc":0.620},{"fn":"Softsign","epoch":82,"auc":0.622},{"fn":"Softsign","epoch":86.6,"auc":0.621},{"fn":"Softsign","epoch":92.5,"auc":0.6117},{"fn":"Softsign","epoch":96.4,"auc":0.5964},{"fn":"Softsign","epoch":100,"auc":0.612},{"fn":"Softsign","epoch":102,"auc":0.6185},{"fn":"Softsign","epoch":106,"auc":0.6066},{"fn":"Softsign","epoch":110,"auc":0.58},{"fn":"Softsign","epoch":113,"auc":0.555},{"fn":"Softsign","epoch":118,"auc":0.5472},{"fn":"Softsign","epoch":122,"auc":0.555},{"fn":"Softsign","epoch":126,"auc":0.5642},{"fn":"Softsign","epoch":131,"auc":0.555},{"fn":"Softsign","epoch":136,"auc":0.5506},{"fn":"Softsign","epoch":143,"auc":0.5608},{"fn":"Softsign","epoch":149,"auc":0.553},{"fn":"Softsign","epoch":155,"auc":0.549},{"fn":"Softsign","epoch":159,"auc":0.558},{"fn":"Softsign","epoch":163,"auc":0.5659},{"fn":"Softsign","epoch":168,"auc":0.552},{"fn":"Softsign","epoch":173,"auc":0.53},{"fn":"Softsign","epoch":177,"auc":0.5185},{"fn":"Softsign","epoch":181,"auc":0.535},{"fn":"Softsign","epoch":187,"auc":0.5557},{"fn":"Softsign","epoch":195,"auc":0.566},{"fn":"Softsign","epoch":202,"auc":0.5744},{"fn":"Softsign","epoch":205,"auc":0.56},{"fn":"Softsign","epoch":208,"auc":0.51},{"fn":"Softsign","epoch":210,"auc":0.488},{"fn":"Softsign","epoch":213,"auc":0.51},{"fn":"Softsign","epoch":218,"auc":0.5846},{"fn":"Softsign","epoch":222,"auc":0.575},{"fn":"Softsign","epoch":226,"auc":0.5557},{"fn":"Softsign","epoch":232,"auc":0.553},{"fn":"Softsign","epoch":238,"auc":0.554},{"fn":"Softsign","epoch":244,"auc":0.57},{"fn":"Softsign","epoch":249,"auc":0.5846},{"fn":"Softsign","epoch":255,"auc":0.5897},{"fn":"Softsign","epoch":261,"auc":0.5795},{"fn":"Softsign","epoch":269,"auc":0.5506},{"fn":"Softsign","epoch":277,"auc":0.5455},{"fn":"Softsign","epoch":282,"auc":0.5388},{"fn":"Softsign","epoch":287,"auc":0.528},{"fn":"Softsign","epoch":291,"auc":0.521},{"fn":"Softsign","epoch":296,"auc":0.54},{"fn":"Softsign","epoch":300,"auc":0.5574},{"fn":"Softsign","epoch":306,"auc":0.5405},{"fn":"Softsign","epoch":314,"auc":0.5455},{"fn":"Softsign","epoch":320,"auc":0.5608},{"fn":"Softsign","epoch":328,"auc":0.5761},{"fn":"Softsign","epoch":334,"auc":0.5642},{"fn":"Softsign","epoch":340,"auc":0.5472},{"fn":"Softsign","epoch":347,"auc":0.5591},{"fn":"Softsign","epoch":355,"auc":0.5634},{"fn":"Softsign","epoch":363,"auc":0.5608},{"fn":"Softsign","epoch":367,"auc":0.545},{"fn":"Softsign","epoch":371,"auc":0.5252},{"fn":"Softsign","epoch":379,"auc":0.5421},{"fn":"Softsign","epoch":388,"auc":0.571},{"fn":"Softsign","epoch":394,"auc":0.5608},{"fn":"Softsign","epoch":400,"auc":0.532},{"fn":"Softsign","epoch":404,"auc":0.555},{"fn":"Softsign","epoch":408,"auc":0.5744},{"fn":"Softsign","epoch":416,"auc":0.5761},{"fn":"Softsign","epoch":422,"auc":0.5591},{"fn":"Softsign","epoch":430,"auc":0.5812},{"fn":"Softsign","epoch":437.6,"auc":0.5897},{"fn":"Softsign","epoch":445,"auc":0.5761},{"fn":"Softsign","epoch":453,"auc":0.5506},{"fn":"Softsign","epoch":463,"auc":0.549},{"fn":"Softsign","epoch":469,"auc":0.5252},{"fn":"Softsign","epoch":475,"auc":0.508},{"fn":"Softsign","epoch":479,"auc":0.503},{"fn":"Softsign","epoch":485,"auc":0.5371},{"fn":"Softsign","epoch":491,"auc":0.565},{"fn":"Softsign","epoch":496,"auc":0.5829},{"fn":"Softsign","epoch":504,"auc":0.554},{"fn":"Softsign","epoch":510,"auc":0.558},{"fn":"Softsign","epoch":516,"auc":0.5625},{"fn":"Softsign","epoch":524,"auc":0.5693},{"fn":"Softsign","epoch":532,"auc":0.5744},{"fn":"Softsign","epoch":538,"auc":0.59},{"fn":"Softsign","epoch":544,"auc":0.605},{"fn":"Softsign","epoch":551,"auc":0.588},{"fn":"Softsign","epoch":556,"auc":0.57},{"fn":"Softsign","epoch":561,"auc":0.5506},{"fn":"Softsign","epoch":566,"auc":0.525},{"fn":"Softsign","epoch":571,"auc":0.5048},{"fn":"Softsign","epoch":577,"auc":0.535},{"fn":"Softsign","epoch":583,"auc":0.5642},{"fn":"Softsign","epoch":588,"auc":0.585},{"fn":"Softsign","epoch":593,"auc":0.593},{"fn":"Softsign","epoch":598,"auc":0.59},{"fn":"Softsign","epoch":602,"auc":0.5812},{"fn":"Softsign","epoch":605,"auc":0.55},{"fn":"Softsign","epoch":608,"auc":0.5167},{"fn":"Softsign","epoch":613,"auc":0.52},{"fn":"Softsign","epoch":618,"auc":0.545},{"fn":"Softsign","epoch":623,"auc":0.57},{"fn":"Softsign","epoch":628,"auc":0.5795},{"fn":"Softsign","epoch":632,"auc":0.57},{"fn":"Softsign","epoch":636,"auc":0.5591},{"fn":"Softsign","epoch":639,"auc":0.53},{"fn":"Softsign","epoch":642,"auc":0.5107},{"fn":"Softsign","epoch":647,"auc":0.545},{"fn":"Softsign","epoch":652,"auc":0.5812},{"fn":"Softsign","epoch":657,"auc":0.5914},{"fn":"Softsign","epoch":662,"auc":0.575},{"fn":"Softsign","epoch":670,"auc":0.540},{"fn":"Softsign","epoch":675,"auc":0.53},{"fn":"Softsign","epoch":682,"auc":0.555},{"fn":"Softsign","epoch":690,"auc":0.585},{"fn":"Softsign","epoch":697,"auc":0.600},{"fn":"Softsign","epoch":706,"auc":0.609},{"fn":"Softsign","epoch":713,"auc":0.58},{"fn":"Softsign","epoch":720,"auc":0.525},{"fn":"Softsign","epoch":727,"auc":0.54},{"fn":"Softsign","epoch":735,"auc":0.57},{"fn":"Softsign","epoch":745,"auc":0.585},{"fn":"Softsign","epoch":755,"auc":0.56},{"fn":"Softsign","epoch":765,"auc":0.575},{"fn":"Softsign","epoch":775,"auc":0.595},{"fn":"Softsign","epoch":785,"auc":0.58},{"fn":"Softsign","epoch":795,"auc":0.55},{"fn":"Softsign","epoch":805,"auc":0.56},{"fn":"Softsign","epoch":815,"auc":0.58},{"fn":"Softsign","epoch":825,"auc":0.56},{"fn":"Softsign","epoch":835,"auc":0.59},{"fn":"Softsign","epoch":845,"auc":0.58},{"fn":"Softsign","epoch":855,"auc":0.545},{"fn":"Softsign","epoch":865,"auc":0.52},{"fn":"Softsign","epoch":875,"auc":0.4963},{"fn":"Softsign","epoch":885,"auc":0.52},{"fn":"Softsign","epoch":895,"auc":0.555},{"fn":"Softsign","epoch":905,"auc":0.58},{"fn":"Softsign","epoch":915,"auc":0.575},{"fn":"Softsign","epoch":925,"auc":0.59},{"fn":"Softsign","epoch":936,"auc":0.609},{"fn":"Softsign","epoch":944,"auc":0.59},{"fn":"Softsign","epoch":952,"auc":0.56},{"fn":"Softsign","epoch":958,"auc":0.53},{"fn":"Softsign","epoch":964,"auc":0.5066},{"fn":"Softsign","epoch":972,"auc":0.53},{"fn":"Softsign","epoch":980,"auc":0.56},{"fn":"Softsign","epoch":988,"auc":0.59},{"fn":"Softsign","epoch":995,"auc":0.61},{"fn":"Softsign","epoch":1000,"auc":0.622},

{"fn":"Tanh","epoch":0,"auc":0.44},{"fn":"Tanh","epoch":3,"auc":0.52},{"fn":"Tanh","epoch":6,"auc":0.60},{"fn":"Tanh","epoch":9,"auc":0.655},{"fn":"Tanh","epoch":12,"auc":0.69},{"fn":"Tanh","epoch":16,"auc":0.715},{"fn":"Tanh","epoch":20,"auc":0.735},{"fn":"Tanh","epoch":25,"auc":0.75},{"fn":"Tanh","epoch":30,"auc":0.758},{"fn":"Tanh","epoch":36,"auc":0.765},{"fn":"Tanh","epoch":42,"auc":0.769},{"fn":"Tanh","epoch":48,"auc":0.771},{"fn":"Tanh","epoch":54,"auc":0.770},{"fn":"Tanh","epoch":60,"auc":0.768},{"fn":"Tanh","epoch":68,"auc":0.761},{"fn":"Tanh","epoch":75,"auc":0.754},{"fn":"Tanh","epoch":81,"auc":0.751},{"fn":"Tanh","epoch":88,"auc":0.738},{"fn":"Tanh","epoch":94,"auc":0.727},{"fn":"Tanh","epoch":100,"auc":0.717},{"fn":"Tanh","epoch":104,"auc":0.710},{"fn":"Tanh","epoch":108,"auc":0.7152},{"fn":"Tanh","epoch":112,"auc":0.7118},{"fn":"Tanh","epoch":118,"auc":0.7169},{"fn":"Tanh","epoch":124,"auc":0.7304},{"fn":"Tanh","epoch":130,"auc":0.7288},{"fn":"Tanh","epoch":136,"auc":0.7372},{"fn":"Tanh","epoch":143,"auc":0.7389},{"fn":"Tanh","epoch":149,"auc":0.744},{"fn":"Tanh","epoch":155,"auc":0.7491},{"fn":"Tanh","epoch":160,"auc":0.748},{"fn":"Tanh","epoch":165,"auc":0.7491},{"fn":"Tanh","epoch":170,"auc":0.755},{"fn":"Tanh","epoch":175,"auc":0.7593},{"fn":"Tanh","epoch":181,"auc":0.761},{"fn":"Tanh","epoch":187,"auc":0.7627},{"fn":"Tanh","epoch":195,"auc":0.7627},{"fn":"Tanh","epoch":202,"auc":0.7729},{"fn":"Tanh","epoch":210,"auc":0.774},{"fn":"Tanh","epoch":218,"auc":0.7746},{"fn":"Tanh","epoch":226,"auc":0.7763},{"fn":"Tanh","epoch":233,"auc":0.772},{"fn":"Tanh","epoch":238,"auc":0.7712},{"fn":"Tanh","epoch":245,"auc":0.779},{"fn":"Tanh","epoch":253,"auc":0.7847},{"fn":"Tanh","epoch":261,"auc":0.7856},{"fn":"Tanh","epoch":269,"auc":0.7805},{"fn":"Tanh","epoch":279,"auc":0.783},{"fn":"Tanh","epoch":289,"auc":0.7856},{"fn":"Tanh","epoch":300,"auc":0.782},{"fn":"Tanh","epoch":308,"auc":0.7813},{"fn":"Tanh","epoch":320,"auc":0.7907},{"fn":"Tanh","epoch":332,"auc":0.789},{"fn":"Tanh","epoch":343,"auc":0.7873},{"fn":"Tanh","epoch":355,"auc":0.793},{"fn":"Tanh","epoch":367,"auc":0.7991},{"fn":"Tanh","epoch":375,"auc":0.795},{"fn":"Tanh","epoch":383,"auc":0.7907},{"fn":"Tanh","epoch":398,"auc":0.794},{"fn":"Tanh","epoch":414,"auc":0.794},{"fn":"Tanh","epoch":418,"auc":0.7898},{"fn":"Tanh","epoch":430,"auc":0.7975},{"fn":"Tanh","epoch":445,"auc":0.795},{"fn":"Tanh","epoch":465,"auc":0.7975},{"fn":"Tanh","epoch":477,"auc":0.795},{"fn":"Tanh","epoch":489,"auc":0.7975},{"fn":"Tanh","epoch":498,"auc":0.7924},{"fn":"Tanh","epoch":508,"auc":0.80},{"fn":"Tanh","epoch":524,"auc":0.7991},{"fn":"Tanh","epoch":547,"auc":0.8008},{"fn":"Tanh","epoch":563,"auc":0.7991},{"fn":"Tanh","epoch":577,"auc":0.794},{"fn":"Tanh","epoch":583,"auc":0.7975},{"fn":"Tanh","epoch":595,"auc":0.795},{"fn":"Tanh","epoch":610,"auc":0.8017},{"fn":"Tanh","epoch":626,"auc":0.8034},{"fn":"Tanh","epoch":638,"auc":0.806},{"fn":"Tanh","epoch":646,"auc":0.8025},{"fn":"Tanh","epoch":661,"auc":0.80},{"fn":"Tanh","epoch":677,"auc":0.806},{"fn":"Tanh","epoch":685,"auc":0.8042},{"fn":"Tanh","epoch":697,"auc":0.8065},{"fn":"Tanh","epoch":712,"auc":0.8025},{"fn":"Tanh","epoch":724,"auc":0.8008},{"fn":"Tanh","epoch":736,"auc":0.806},{"fn":"Tanh","epoch":748,"auc":0.8008},{"fn":"Tanh","epoch":761,"auc":0.8051},{"fn":"Tanh","epoch":771,"auc":0.80},{"fn":"Tanh","epoch":787,"auc":0.8051},{"fn":"Tanh","epoch":799,"auc":0.7949},{"fn":"Tanh","epoch":814,"auc":0.7958},{"fn":"Tanh","epoch":830,"auc":0.7983},{"fn":"Tanh","epoch":850,"auc":0.8025},{"fn":"Tanh","epoch":873,"auc":0.8068},{"fn":"Tanh","epoch":889,"auc":0.8068},{"fn":"Tanh","epoch":901,"auc":0.80},{"fn":"Tanh","epoch":913,"auc":0.7975},{"fn":"Tanh","epoch":924,"auc":0.8093},{"fn":"Tanh","epoch":940,"auc":0.8034},{"fn":"Tanh","epoch":952,"auc":0.8025},{"fn":"Tanh","epoch":964,"auc":0.8017},{"fn":"Tanh","epoch":975,"auc":0.7991},{"fn":"Tanh","epoch":991,"auc":0.7975},{"fn":"Tanh","epoch":1000,"auc":0.7975},

{"fn":"Tanhshrink","epoch":0,"auc":0.4896},{"fn":"Tanhshrink","epoch":2,"auc":0.4658},{"fn":"Tanhshrink","epoch":4,"auc":0.48},{"fn":"Tanhshrink","epoch":6,"auc":0.493},{"fn":"Tanhshrink","epoch":9,"auc":0.51},{"fn":"Tanhshrink","epoch":12,"auc":0.5303},{"fn":"Tanhshrink","epoch":14,"auc":0.505},{"fn":"Tanhshrink","epoch":16,"auc":0.4879},{"fn":"Tanhshrink","epoch":19,"auc":0.505},{"fn":"Tanhshrink","epoch":22,"auc":0.5184},{"fn":"Tanhshrink","epoch":24,"auc":0.50},{"fn":"Tanhshrink","epoch":26,"auc":0.4896},{"fn":"Tanhshrink","epoch":29,"auc":0.47},{"fn":"Tanhshrink","epoch":31.6,"auc":0.4556},{"fn":"Tanhshrink","epoch":34,"auc":0.48},{"fn":"Tanhshrink","epoch":37.5,"auc":0.5065},{"fn":"Tanhshrink","epoch":40,"auc":0.49},{"fn":"Tanhshrink","epoch":43,"auc":0.455},{"fn":"Tanhshrink","epoch":47,"auc":0.4285},{"fn":"Tanhshrink","epoch":50,"auc":0.445},{"fn":"Tanhshrink","epoch":53,"auc":0.4658},{"fn":"Tanhshrink","epoch":56,"auc":0.445},{"fn":"Tanhshrink","epoch":59,"auc":0.4302},{"fn":"Tanhshrink","epoch":62,"auc":0.445},{"fn":"Tanhshrink","epoch":65,"auc":0.4556},{"fn":"Tanhshrink","epoch":68,"auc":0.44},{"fn":"Tanhshrink","epoch":71,"auc":0.4302},{"fn":"Tanhshrink","epoch":74,"auc":0.438},{"fn":"Tanhshrink","epoch":77,"auc":0.437},{"fn":"Tanhshrink","epoch":81,"auc":0.420},{"fn":"Tanhshrink","epoch":85,"auc":0.428},{"fn":"Tanhshrink","epoch":88.5,"auc":0.4302},{"fn":"Tanhshrink","epoch":94,"auc":0.424},{"fn":"Tanhshrink","epoch":100,"auc":0.4217},{"fn":"Tanhshrink","epoch":110,"auc":0.421},{"fn":"Tanhshrink","epoch":120,"auc":0.4222},{"fn":"Tanhshrink","epoch":128,"auc":0.4217},{"fn":"Tanhshrink","epoch":137,"auc":0.421},{"fn":"Tanhshrink","epoch":147,"auc":0.4217},{"fn":"Tanhshrink","epoch":167,"auc":0.4225},{"fn":"Tanhshrink","epoch":187,"auc":0.4234},{"fn":"Tanhshrink","epoch":206,"auc":0.4255},{"fn":"Tanhshrink","epoch":226,"auc":0.4277},{"fn":"Tanhshrink","epoch":246,"auc":0.430},{"fn":"Tanhshrink","epoch":265,"auc":0.4319},{"fn":"Tanhshrink","epoch":285,"auc":0.434},{"fn":"Tanhshrink","epoch":304,"auc":0.437},{"fn":"Tanhshrink","epoch":350,"auc":0.441},{"fn":"Tanhshrink","epoch":402,"auc":0.445},{"fn":"Tanhshrink","epoch":440,"auc":0.4485},{"fn":"Tanhshrink","epoch":485,"auc":0.452},{"fn":"Tanhshrink","epoch":540,"auc":0.456},{"fn":"Tanhshrink","epoch":603,"auc":0.4616},{"fn":"Tanhshrink","epoch":658,"auc":0.466},{"fn":"Tanhshrink","epoch":700,"auc":0.468},{"fn":"Tanhshrink","epoch":750,"auc":0.4715},{"fn":"Tanhshrink","epoch":800,"auc":0.4735},{"fn":"Tanhshrink","epoch":846,"auc":0.476},{"fn":"Tanhshrink","epoch":900,"auc":0.478},{"fn":"Tanhshrink","epoch":950,"auc":0.4795},{"fn":"Tanhshrink","epoch":1000,"auc":0.481}
]},
"mark": {"type": "line", "strokeWidth": 5, "interpolate": "monotone", "strokeJoin": "round", "clip": true},
"encoding": {
"x": {"field": "epoch", "type": "quantitative", "scale": {"domain": [-50, 1050], "nice": false, "zero": false},
 "axis": {"values": [0, 200, 400, 600, 800, 1000], "title": "Epochs", "format": "d", "titlePadding": 14}},
"y": {"field": "auc", "type": "quantitative", "scale": {"domain": [0.3805, 0.8535], "nice": false, "zero": false},
 "axis": {"values": [0.4, 0.5, 0.6, 0.7, 0.8], "format": ".1f", "title": "ROC AUC", "titlePadding": 16}},
"color": {"field": "fn", "type": "nominal",
 "scale": {"domain": ["ELU","LogSigmoid","PReLU","SELU","CELU","GELU","Sigmoid","SiLU","Mish","Softplus","Softshrink","Softsign","Tanh","Tanhshrink"],
  "range": ["#1f77b4","#ff7f0e","#2ca02c","#d62728","#9467bd","#8c564b","#e377c2","#7f7f7f","#bcbd22","#17becf","#1f77b4","#ff7f0e","#2ca02c","#d62728"]},
 "legend": {"title": null, "orient": "none", "legendX": 601, "legendY": 191, "symbolType": "stroke", "symbolSize": 5184, "symbolStrokeWidth": 4.9,
  "labelFont": "DejaVu Sans", "labelFontSize": 33, "labelColor": "black", "labelOffset": 21, "labelLimit": 400,
  "clipHeight": 40, "rowPadding": 10.5, "padding": 11, "fillColor": "rgba(255,255,255,0.8)", "strokeColor": "#cccccc", "cornerRadius": 6}}
},
"config": {
"view": {"stroke": "black", "strokeWidth": 2.6},
"font": "DejaVu Sans",
"axis": {"domain": false, "grid": false, "ticks": true, "tickColor": "black", "tickSize": 11, "tickWidth": 2.6,
 "labelFont": "DejaVu Sans", "labelFontSize": 33, "labelColor": "black", "labelPadding": 10,
 "titleFont": "DejaVu Sans", "titleFontSize": 33, "titleFontWeight": "normal", "titleColor": "black"},
"legend": {"strokeWidth": 2.6}
}
}
